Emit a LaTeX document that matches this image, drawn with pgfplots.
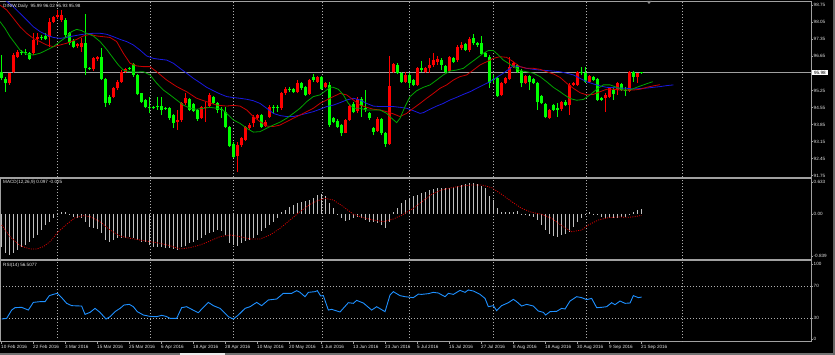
\documentclass[border=0pt]{standalone}
\usepackage{pgfplots}
\pgfplotsset{compat=1.18}
\usepackage{pgfplotstable}
\usepackage{fontspec}
\setmainfont{Liberation Sans}
\newcommand\mtfont{\fontsize{4.6bp}{5.5bp}\selectfont}
\definecolor{mtframe}{RGB}{160,160,160}
\definecolor{mtgrid}{RGB}{175,175,175}
\definecolor{mttext}{RGB}{228,228,228}
\definecolor{bull}{RGB}{255,0,0}
\definecolor{bear}{RGB}{0,255,0}
\definecolor{lips}{RGB}{0,165,0}
\definecolor{teeth}{RGB}{200,0,0}
\definecolor{jaw}{RGB}{25,25,225}
\definecolor{hist}{RGB}{192,192,192}
\definecolor{sig}{RGB}{215,0,0}
\definecolor{rsic}{RGB}{30,144,255}

% bull candles (drawn red): bar, low, high, body bottom, body top
\pgfplotstableread{
x lo hi bot top
2 95.48 95.98 95.55 95.96
3 95.98 96.78 96.02 96.71
4 96.57 96.91 96.64 96.85
8 96.71 97.60 96.78 97.33
9 97.12 97.60 97.35 97.43
12 97.05 98.22 97.46 98.08
13 98.01 98.31 98.08 98.26
14 98.17 98.56 98.26 98.35
15 98.08 98.56 98.15 98.35
19 96.98 97.22 97.08 97.15
20 96.85 97.39 97.05 97.19
23 96.07 96.61 96.12 96.57
24 96.48 96.67 96.53 96.61
28 94.93 95.41 95.00 95.34
29 95.27 95.68 95.34 95.61
30 95.57 96.09 95.61 96.02
31 95.96 96.16 96.02 96.12
44 93.63 94.45 93.97 94.04
45 93.97 94.79 94.04 94.75
46 94.65 95.13 94.72 94.93
50 94.07 94.61 94.11 94.59
51 93.97 94.79 94.52 94.59
52 94.56 95.13 94.61 95.07
59 91.92 93.15 92.56 93.01
60 92.94 93.33 93.01 93.29
61 93.18 93.81 93.22 93.77
62 93.63 93.90 93.70 93.83
63 93.77 94.24 93.90 94.18
64 94.04 94.29 94.11 94.24
66 93.74 94.04 93.79 93.97
67 94.11 94.65 94.18 94.59
70 94.45 95.20 94.52 95.13
71 95.07 95.41 95.16 95.30
74 95.13 95.68 95.20 95.57
77 95.07 95.72 95.11 95.68
79 95.57 95.85 95.61 95.79
81 95.34 95.59 95.38 95.55
86 93.49 94.09 93.52 94.04
87 94.01 94.65 94.04 94.61
89 94.31 94.97 94.41 94.89
94 93.56 94.18 93.60 94.07
97 93.01 96.67 93.05 95.44
98 95.96 96.39 96.02 96.34
101 95.55 96.02 95.61 95.89
104 95.44 96.23 95.48 96.19
106 95.98 96.23 96.02 96.19
107 95.98 96.57 96.16 96.30
108 96.23 96.78 96.30 96.50
109 96.30 96.67 96.43 96.53
112 96.02 96.68 96.07 96.64
114 96.43 97.12 96.50 97.05
115 96.91 97.26 96.98 97.12
117 96.85 97.43 96.91 97.35
125 95.02 95.59 95.07 95.55
126 95.50 95.82 95.55 95.75
127 95.68 96.64 95.71 96.23
128 96.19 96.43 96.23 96.37
131 95.50 95.89 95.55 95.85
137 94.07 94.49 94.11 94.45
140 94.42 94.83 94.48 94.79
142 94.24 95.54 94.65 95.48
143 95.44 95.60 95.48 95.55
144 95.44 96.07 95.48 96.02
147 95.57 95.89 95.61 95.85
151 94.38 95.13 94.93 95.07
152 94.93 95.38 94.97 95.34
154 95.07 95.61 95.27 95.55
157 95.20 96.07 95.24 96.02
159 95.55 95.98 95.79 95.96
}\redtab

% bear candles (drawn green)
\pgfplotstableread{
x lo hi bot top
0 95.68 96.71 95.75 96.02
1 95.20 95.82 95.57 95.74
5 96.71 96.91 96.78 96.85
6 96.71 96.94 96.80 96.85
7 96.50 96.85 96.53 96.78
10 97.33 97.53 97.41 97.46
11 97.33 97.60 97.38 97.49
16 97.46 98.22 97.53 98.15
17 97.12 97.67 97.19 97.60
18 96.98 97.35 97.05 97.30
21 95.89 98.39 96.16 97.19
22 96.09 96.23 96.13 96.19
25 95.68 96.98 95.71 96.61
26 94.59 95.75 94.75 95.71
27 94.65 95.07 94.72 95.00
32 96.09 96.23 96.13 96.17
33 95.82 96.37 95.89 96.34
34 95.05 95.93 95.09 95.89
35 94.75 95.16 94.79 95.13
36 94.52 94.89 94.56 94.86
37 94.31 95.00 94.55 94.59
38 94.48 94.61 94.53 94.57
39 94.45 95.00 94.56 94.60
40 94.24 95.00 94.45 94.61
41 94.45 94.59 94.49 94.53
42 94.04 94.59 94.11 94.52
43 93.70 94.29 93.93 94.24
47 94.41 94.93 94.45 94.89
48 94.37 94.72 94.41 94.68
49 94.01 94.49 94.07 94.45
53 94.68 95.04 94.72 95.00
54 94.31 94.79 94.45 94.72
55 94.11 94.59 94.46 94.50
56 93.70 94.59 93.77 94.38
57 92.94 93.81 92.98 93.77
58 92.46 93.15 92.53 93.05
65 93.72 94.29 93.77 94.24
68 94.31 94.65 94.53 94.59
69 94.38 94.65 94.53 94.57
72 95.20 95.41 95.26 95.30
73 95.16 95.34 95.20 95.30
75 95.27 95.61 95.34 95.57
76 95.02 95.44 95.07 95.38
78 95.61 95.93 95.68 95.82
80 95.27 95.86 95.30 95.82
82 93.77 95.61 93.83 95.48
83 93.93 94.15 93.97 94.11
84 93.72 94.07 93.77 94.01
85 93.38 93.87 93.49 93.83
88 94.31 94.79 94.38 94.68
90 94.18 95.00 94.61 94.89
91 94.38 95.27 94.49 94.53
92 94.04 94.38 94.11 94.34
93 93.42 93.77 93.56 93.70
95 93.42 94.11 93.49 94.07
96 92.94 93.56 93.05 93.52
99 95.93 96.37 95.98 96.30
100 95.57 96.01 95.61 95.96
102 95.34 95.96 95.57 95.89
103 95.44 95.72 95.48 95.68
105 96.02 96.46 96.09 96.19
110 96.09 96.57 96.30 96.50
111 95.98 96.30 96.02 96.26
113 96.39 96.61 96.43 96.57
116 96.87 97.19 96.91 97.15
118 97.12 97.57 97.19 97.39
119 97.05 97.26 97.12 97.22
120 96.71 97.49 96.75 97.19
121 96.61 96.85 96.64 96.78
122 95.34 96.71 95.55 96.64
123 95.55 95.89 95.68 95.74
124 95.00 95.79 95.02 95.75
129 95.98 96.34 96.02 96.30
130 95.38 96.12 95.55 96.07
132 95.27 95.90 95.61 95.85
133 95.50 95.75 95.55 95.71
134 94.45 95.61 94.79 95.57
135 94.68 95.07 94.72 95.02
136 94.11 94.74 94.15 94.70
138 94.41 94.70 94.45 94.65
139 94.18 94.72 94.45 94.52
141 94.61 94.86 94.65 94.79
145 95.89 96.23 95.96 96.02
146 95.55 96.23 95.61 95.96
148 95.64 95.86 95.68 95.82
149 94.82 95.76 94.86 95.72
150 94.82 94.97 94.86 94.93
153 94.86 95.34 95.11 95.27
155 95.23 95.56 95.27 95.52
156 95.04 95.38 95.23 95.27
158 95.61 96.07 95.82 96.02
160 95.93 96.02 95.98 95.99
}\greentab

% MACD histogram
\pgfplotstableread{
x v
0 -0.646
1 -0.778
2 -0.811
3 -0.778
4 -0.712
5 -0.646
6 -0.613
7 -0.547
8 -0.481
9 -0.415
10 -0.317
11 -0.218
12 -0.152
13 -0.086
14 -0.020
15 0.046
16 0.046
17 -0.005
18 -0.053
19 -0.073
20 -0.086
21 -0.152
22 -0.251
23 -0.284
24 -0.303
25 -0.383
26 -0.514
27 -0.547
28 -0.514
29 -0.481
30 -0.481
31 -0.468
32 -0.448
33 -0.481
34 -0.514
35 -0.547
36 -0.547
37 -0.613
38 -0.646
39 -0.646
40 -0.646
41 -0.666
42 -0.679
43 -0.692
44 -0.712
45 -0.646
46 -0.627
47 -0.580
48 -0.547
49 -0.514
50 -0.481
51 -0.415
52 -0.383
53 -0.363
54 -0.317
55 -0.336
56 -0.415
57 -0.580
58 -0.613
59 -0.627
60 -0.580
61 -0.534
62 -0.514
63 -0.481
64 -0.415
65 -0.336
66 -0.284
67 -0.218
68 -0.152
69 -0.073
70 0.033
71 0.079
72 0.145
73 0.178
74 0.211
75 0.244
76 0.257
77 0.277
78 0.323
79 0.376
80 0.389
81 0.363
82 0.211
83 0.112
84 -0.007
85 -0.086
86 -0.139
87 -0.119
88 -0.086
89 -0.053
90 -0.073
91 -0.119
92 -0.152
93 -0.152
94 -0.185
95 -0.218
96 -0.284
97 -0.152
98 0.033
99 0.125
100 0.211
101 0.277
102 0.323
103 0.363
104 0.376
105 0.409
106 0.442
107 0.475
108 0.495
109 0.508
110 0.508
111 0.508
112 0.521
113 0.541
114 0.554
115 0.574
116 0.587
117 0.607
118 0.607
119 0.587
120 0.561
121 0.508
122 0.363
123 0.277
124 0.125
125 0.046
126 0.033
127 0.033
128 0.046
129 0.059
130 -0.005
131 -0.007
132 -0.033
133 -0.053
134 -0.119
135 -0.218
136 -0.317
137 -0.402
138 -0.429
139 -0.448
140 -0.415
141 -0.402
142 -0.350
143 -0.251
144 -0.165
145 -0.086
146 -0.020
147 0.033
148 -0.005
149 -0.007
150 -0.053
151 -0.073
152 -0.086
153 -0.086
154 -0.073
155 -0.053
156 -0.053
157 -0.007
158 0.033
159 0.079
160 0.097
}\macdtab

\pgfplotsset{
  mt/.style={
    scale only axis, width=811bp,
    xmin=-0.425, xmax=202.325,
    axis line style={draw=mtframe, line width=1bp},
    tick style={draw=mtframe, line width=0.7bp},
    tick align=outside, major tick length=2.2bp,
    ytick pos=right, yticklabel pos=right,
    xtick=\empty,
    yticklabel style={font=\mtfont, text=mttext, anchor=west, inner sep=0pt, xshift=0.3bp},
    extra x ticks={13.825,37.075,57.825,80.075,101.825,122.825,146.075,170.075},
    extra x tick labels={},
    extra x tick style={grid=major, tick style={draw=none}},
    major grid style={draw=mtgrid, line width=0.7bp, dash pattern=on 1bp off 2bp},
    clip=true,
  },
  candlewick/.style={draw=none, mark=none,
    error bars/.cd, y dir=plus, y explicit, error mark=none,
    error bar style={draw=#1, line width=1bp}},
  candlebody/.style={draw=none, mark=none,
    error bars/.cd, y dir=plus, y explicit, error mark=none,
    error bar style={draw=#1, line width=3bp}},
}

\begin{document}
\begin{tikzpicture}
\fill[black] (0bp,0bp) rectangle (835bp,355bp);
\useasboundingbox (0bp,0bp) rectangle (835bp,355bp);

% ---------------- main price panel ----------------
\begin{axis}[mt, at={(0bp,177.5bp)}, anchor=south west, height=176bp,
  ymin=91.676, ymax=98.906,
  ytick={91.75,92.45,93.15,93.85,94.55,95.25,96.65,97.35,98.05,98.75},
  yticklabels={91.75,92.45,93.15,93.85,94.55,95.25,96.65,97.35,98.05,98.75},
  extra y ticks={95.98}, extra y tick labels={95.98},
  extra y tick style={grid=major,
     major grid style={draw=mtframe, solid, line width=0.8bp},
     yticklabel style={fill=white, text=black, inner xsep=2.2bp, inner ysep=0.8bp, xshift=-1.8bp}},
]
\addplot[candlewick=bull] table[x=x, y=lo, y error plus expr=\thisrow{hi}-\thisrow{lo}] {\redtab};
\addplot[candlebody=bull] table[x=x, y=bot, y error plus expr=\thisrow{top}-\thisrow{bot}] {\redtab};
\addplot[candlewick=bear] table[x=x, y=lo, y error plus expr=\thisrow{hi}-\thisrow{lo}] {\greentab};
\addplot[candlebody=bear] table[x=x, y=bot, y error plus expr=\thisrow{top}-\thisrow{bot}] {\greentab};

% Alligator jaw (blue)
\addplot[jaw, line width=0.8bp, mark=none] coordinates {
(0.83,98.97) (2.91,98.69) (4.58,98.42) (6.24,98.15) (7.91,97.87) (9.58,97.67) (11.24,97.53) (12.91,97.43) (14.58,97.39) (16.24,97.43) (17.91,97.49) (19.58,97.54) (21.24,97.58) (22.91,97.60) (24.58,97.60) (26.24,97.56) (27.91,97.46) (29.58,97.35) (31.24,97.26) (32.91,97.12) (34.58,96.91) (36.24,96.67) (37.91,96.57) (39.58,96.53) (41.24,96.50) (42.91,96.37) (44.58,96.16) (46.24,95.96) (47.91,95.75) (49.58,95.57) (51.24,95.38) (52.91,95.24) (54.58,95.11) (56.24,95.00) (57.91,94.96) (59.58,94.93) (61.24,94.89) (62.91,94.83) (64.58,94.72) (66.24,94.52) (67.91,94.31) (69.58,94.22) (71.24,94.18) (72.91,94.18) (74.58,94.24) (76.24,94.31) (77.91,94.38) (79.58,94.48) (81.24,94.59) (82.91,94.65) (84.58,94.75) (86.24,94.86) (87.91,94.93) (89.58,94.86) (91.24,94.72) (92.91,94.61) (94.58,94.59) (96.24,94.59) (97.91,94.59) (99.58,94.56) (101.24,94.52) (102.91,94.42) (104.58,94.31) (105.41,94.34) (107.08,94.48) (108.74,94.61) (110.41,94.72) (112.08,94.86) (113.74,94.97) (115.41,95.09) (117.08,95.20) (118.74,95.34) (120.41,95.48) (122.08,95.61) (123.74,95.79) (125.41,95.96) (127.08,96.16) (127.91,96.26) (129.58,96.23) (131.24,96.16) (132.91,96.12) (134.58,96.09) (136.24,96.07) (137.91,96.05) (139.58,96.02) (141.24,95.96) (142.91,95.89) (144.58,95.75) (146.24,95.61) (147.91,95.52) (149.58,95.44) (151.24,95.38) (152.91,95.37) (154.58,95.35) (156.24,95.34) (157.91,95.31) (159.58,95.33) (161.24,95.35) (162.91,95.38) (164.58,95.41) (166.24,95.45) (167.91,95.48)
};
% Alligator teeth (red)
\addplot[teeth, line width=0.8bp, mark=none] coordinates {
(-0.43,98.76) (1.24,98.56) (2.91,98.22) (4.58,97.87) (6.24,97.60) (7.91,97.39) (9.58,97.26) (11.24,97.12) (12.91,97.05) (14.58,97.12) (16.24,97.19) (18.74,97.35) (20.41,97.49) (22.08,97.56) (23.74,97.49) (25.41,97.46) (27.08,97.43) (28.74,97.26) (30.41,96.78) (32.08,96.37) (33.74,96.26) (35.41,96.23) (37.08,96.23) (38.74,96.02) (41.24,95.68) (43.74,95.41) (46.24,95.20) (48.74,94.93) (51.24,94.79) (53.74,94.65) (56.24,94.61) (57.91,94.64) (59.58,94.61) (61.24,94.45) (62.91,94.18) (64.58,93.97) (66.24,93.79) (67.91,93.77) (69.58,93.83) (71.24,93.97) (72.91,94.11) (74.58,94.24) (76.24,94.38) (77.91,94.52) (79.58,94.72) (81.24,94.86) (82.91,95.00) (84.58,95.13) (86.24,95.07) (87.91,94.86) (89.58,94.65) (91.24,94.56) (92.91,94.48) (94.58,94.45) (96.24,94.38) (97.91,94.29) (99.58,94.18) (101.24,94.31) (102.91,94.52) (104.58,94.72) (106.24,94.93) (107.91,95.13) (109.58,95.34) (111.24,95.48) (112.91,95.68) (114.58,95.82) (116.24,95.89) (117.91,96.09) (119.58,96.30) (121.24,96.43) (122.91,96.57) (124.58,96.64) (126.24,96.61) (127.91,96.43) (129.58,96.23) (131.24,96.16) (132.91,96.16) (134.58,96.12) (136.24,96.02) (137.91,95.93) (139.58,95.79) (141.24,95.55) (142.91,95.34) (144.58,95.16) (146.24,95.07) (147.91,95.09) (149.58,95.20) (151.24,95.30) (152.91,95.30) (154.58,95.27) (156.24,95.27) (157.91,95.27) (159.58,95.30) (161.24,95.38) (162.91,95.44) (164.58,95.49)
};
% Alligator lips (green)
\addplot[lips, line width=0.8bp, mark=none] coordinates {
(-0.43,98.08) (0.83,97.80) (2.08,97.46) (3.33,97.19) (4.58,96.91) (6.24,96.74) (7.91,96.71) (9.58,96.78) (11.24,96.91) (12.91,97.05) (14.58,97.26) (16.24,97.46) (17.49,97.67) (18.74,97.76) (19.99,97.71) (21.24,97.60) (22.91,97.49) (24.58,97.26) (26.24,96.94) (27.91,96.57) (29.16,96.30) (30.41,96.09) (32.08,96.02) (33.74,96.01) (35.41,96.02) (37.08,95.89) (38.74,95.55) (40.41,95.27) (42.08,95.07) (43.74,94.86) (45.41,94.65) (47.08,94.52) (48.74,94.48) (50.41,94.52) (52.08,94.56) (53.74,94.52) (54.99,94.48) (56.24,94.31) (57.91,94.04) (59.58,93.90) (61.24,93.70) (62.91,93.54) (64.58,93.56) (66.24,93.70) (67.91,93.83) (69.58,93.95) (71.24,94.11) (72.91,94.31) (74.58,94.52) (76.24,94.79) (77.91,95.00) (79.58,95.07) (81.24,95.27) (82.08,95.38) (82.91,95.38) (84.16,95.30) (85.41,95.07) (86.66,94.72) (87.49,94.59) (88.33,94.52) (89.58,94.52) (91.24,94.45) (92.91,94.45) (94.58,94.45) (96.24,94.31) (97.49,94.11) (98.74,93.93) (99.58,94.11) (100.83,94.59) (102.08,95.00) (103.74,95.24) (105.41,95.38) (107.08,95.48) (108.74,95.68) (110.41,95.89) (112.08,96.05) (113.74,96.09) (115.41,96.16) (117.08,96.37) (118.74,96.57) (120.41,96.78) (121.66,96.89) (122.91,96.89) (124.16,96.71) (125.41,96.50) (126.66,96.37) (127.91,96.23) (129.58,96.07) (131.24,96.02) (132.91,95.96) (134.58,95.82) (136.24,95.61) (137.91,95.38) (139.58,95.20) (140.41,95.10) (142.08,94.92) (143.74,94.85) (145.41,94.88) (147.08,95.07) (148.74,95.30) (150.41,95.48) (152.08,95.48) (153.74,95.38) (155.41,95.27) (157.08,95.27) (158.74,95.38) (160.41,95.48) (162.74,95.61)
};
\node[anchor=west, inner sep=0pt, font=\mtfont, text=mttext, xshift=3bp, yshift=-4.5bp] at (rel axis cs:0,1) {DINIW,Daily\ \ 95.99 96.02 95.93 95.98};
\end{axis}

% ---------------- MACD panel ----------------
\begin{axis}[mt, at={(0bp,95.5bp)}, anchor=south west, height=80.5bp,
  ymin=-0.900, ymax=0.692,
  ytick={-0.839,0,0.633}, yticklabels={-0.839,0.00,0.633},
]
\addplot[ycomb, draw=hist, line width=1bp, mark=none] table[x=x, y=v] {\macdtab};
\addplot[sig, line width=0.8bp, dash pattern=on 1bp off 1.3bp, mark=none] coordinates {
(-0.01,-0.218) (2.08,-0.448) (4.58,-0.627) (7.08,-0.692) (8.74,-0.692) (10.41,-0.646) (12.08,-0.547) (14.16,-0.350) (16.24,-0.204) (18.33,-0.073) (20.41,-0.033) (22.08,-0.053) (24.58,-0.152) (27.08,-0.317) (29.58,-0.435) (32.08,-0.481) (34.58,-0.514) (37.08,-0.547) (39.58,-0.580) (42.08,-0.627) (44.58,-0.692) (47.08,-0.666) (49.58,-0.613) (52.08,-0.534) (54.58,-0.448) (57.08,-0.415) (59.58,-0.448) (62.08,-0.495) (64.58,-0.495) (67.08,-0.415) (69.58,-0.284) (72.08,-0.119) (74.58,0.046) (77.08,0.191) (78.74,0.257) (80.83,0.310) (82.91,0.277) (85.41,0.145) (87.91,-0.007) (90.41,-0.073) (92.91,-0.119) (95.41,-0.152) (97.91,-0.099) (100.41,-0.007) (102.91,0.112) (104.99,0.240) (107.49,0.390) (109.99,0.475) (112.49,0.521) (114.99,0.554) (117.49,0.574) (119.99,0.574) (122.49,0.521) (124.99,0.389) (127.49,0.244) (129.99,0.112) (132.49,0.033) (134.99,-0.007) (137.49,-0.086) (139.99,-0.231) (142.49,-0.350) (144.99,-0.317) (146.66,-0.218) (149.16,-0.119) (151.66,-0.073) (154.16,-0.059) (156.66,-0.066) (158.33,-0.053) (160,-0.025)
};
\node[anchor=west, inner sep=0pt, font=\mtfont, text=mttext, xshift=3bp, yshift=-3.4bp] at (rel axis cs:0,1) {MACD(12,26,9) 0.097 -0.025};
\end{axis}

% ---------------- RSI panel ----------------
\begin{axis}[mt, at={(0bp,13.5bp)}, anchor=south west, height=80.5bp,
  ymin=1.0, ymax=101.6,
  ytick={4.1,97.5}, yticklabels={0,100},
  extra y ticks={30,70}, extra y tick labels={30,70},
  extra y tick style={grid=major},
  xtick={0,8,...,160}, xtick pos=bottom,
  xticklabels={10 Feb 2016,22 Feb 2016,3 Mar 2016,15 Mar 2016,25 Mar 2016,6 Apr 2016,18 Apr 2016,28 Apr 2016,10 May 2016,20 May 2016,1 Jun 2016,13 Jun 2016,23 Jun 2016,5 Jul 2016,15 Jul 2016,27 Jul 2016,8 Aug 2016,18 Aug 2016,30 Aug 2016,9 Sep 2016,21 Sep 2016},
  xticklabel style={font=\mtfont, text=mttext, anchor=north west, inner sep=0pt, xshift=-0.7bp, yshift=-1bp},
]
\addplot[rsic, line width=0.9bp, mark=none] coordinates {
(-0.01,29.1) (1.24,29.9) (2.49,40.3) (3.33,43.3) (4.99,43.7) (6.66,40.3) (7.91,49.9) (9.58,50.8) (10.83,50.8) (11.91,58.3) (12.91,59.9) (13.91,61.2) (14.99,55.8) (16.24,48.7) (17.49,45.8) (19.99,45.3) (20.83,34.9) (22.08,37.4) (23.33,42.4) (24.58,37.4) (26.08,29.1) (27.08,32.0) (28.33,38.3) (29.58,42.4) (30.58,46.6) (31.91,47.4) (32.91,44.5) (33.91,38.3) (35.41,34.1) (37.08,32.4) (38.74,32.0) (39.99,33.7) (41.08,32.4) (42.08,29.9) (43.74,29.9) (44.99,43.3) (46.24,44.5) (47.49,41.2) (49.16,37.0) (50.41,43.7) (51.66,49.9) (52.91,45.8) (54.58,42.4) (56.66,32.0) (57.91,29.1) (59.16,34.1) (60.83,42.4) (62.08,44.5) (63.74,49.9) (64.99,45.8) (66.66,52.9) (68.74,54.1) (70.41,61.2) (72.49,61.2) (73.74,64.5) (74.58,62.4) (75.83,57.0) (76.66,62.4) (78.33,63.3) (78.91,64.5) (79.74,57.9) (80.41,58.3) (81.66,40.3) (82.49,41.2) (84.58,37.9) (86.66,49.5) (87.91,48.7) (88.74,52.4) (90.41,49.1) (92.49,40.3) (93.74,44.5) (95.83,38.3) (97.08,59.1) (97.91,63.3) (99.58,58.3) (100.83,57.0) (102.91,55.8) (104.16,60.2) (104.99,59.9) (106.66,60.8) (107.91,62.4) (109.16,61.6) (110.83,57.0) (111.66,61.2) (112.91,59.9) (114.58,64.9) (115.83,62.4) (116.66,65.4) (117.91,64.1) (119.58,59.9) (120.83,54.9) (121.66,44.5) (122.91,45.8) (123.74,39.5) (124.99,45.8) (126.66,49.5) (127.91,53.7) (128.74,50.8) (129.99,45.3) (131.24,47.4) (132.91,45.3) (134.16,39.1) (135.41,37.4) (135.99,34.1) (137.08,38.3) (138.74,38.7) (139.99,42.4) (140.83,41.6) (142.08,51.6) (143.74,57.0) (144.99,55.8) (146.24,53.3) (147.49,54.9) (148.74,43.3) (149.99,43.7) (151.24,44.5) (152.49,49.5) (153.33,47.0) (154.58,51.6) (155.83,48.7) (157.08,49.1) (157.91,58.3) (159.16,55.8) (159.99,56.5)
};
\node[anchor=west, inner sep=0pt, font=\mtfont, text=mttext, xshift=3bp, yshift=-4bp] at (rel axis cs:0,1) {RSI(14) 56.5077};
\end{axis}

% window decorations
\fill[black!55!white] (0bp,0bp) rectangle (835bp,2.4bp);
\fill[white!92!black] (180bp,0bp) rectangle (225bp,2.4bp);
\draw[black!60!white, line width=1.4bp] (834bp,0bp) -- (834bp,355bp);
\fill[black!45!white] (646.5bp,354bp) -- (651.5bp,354bp) -- (649bp,351bp) -- cycle;
\end{tikzpicture}
\end{document}
